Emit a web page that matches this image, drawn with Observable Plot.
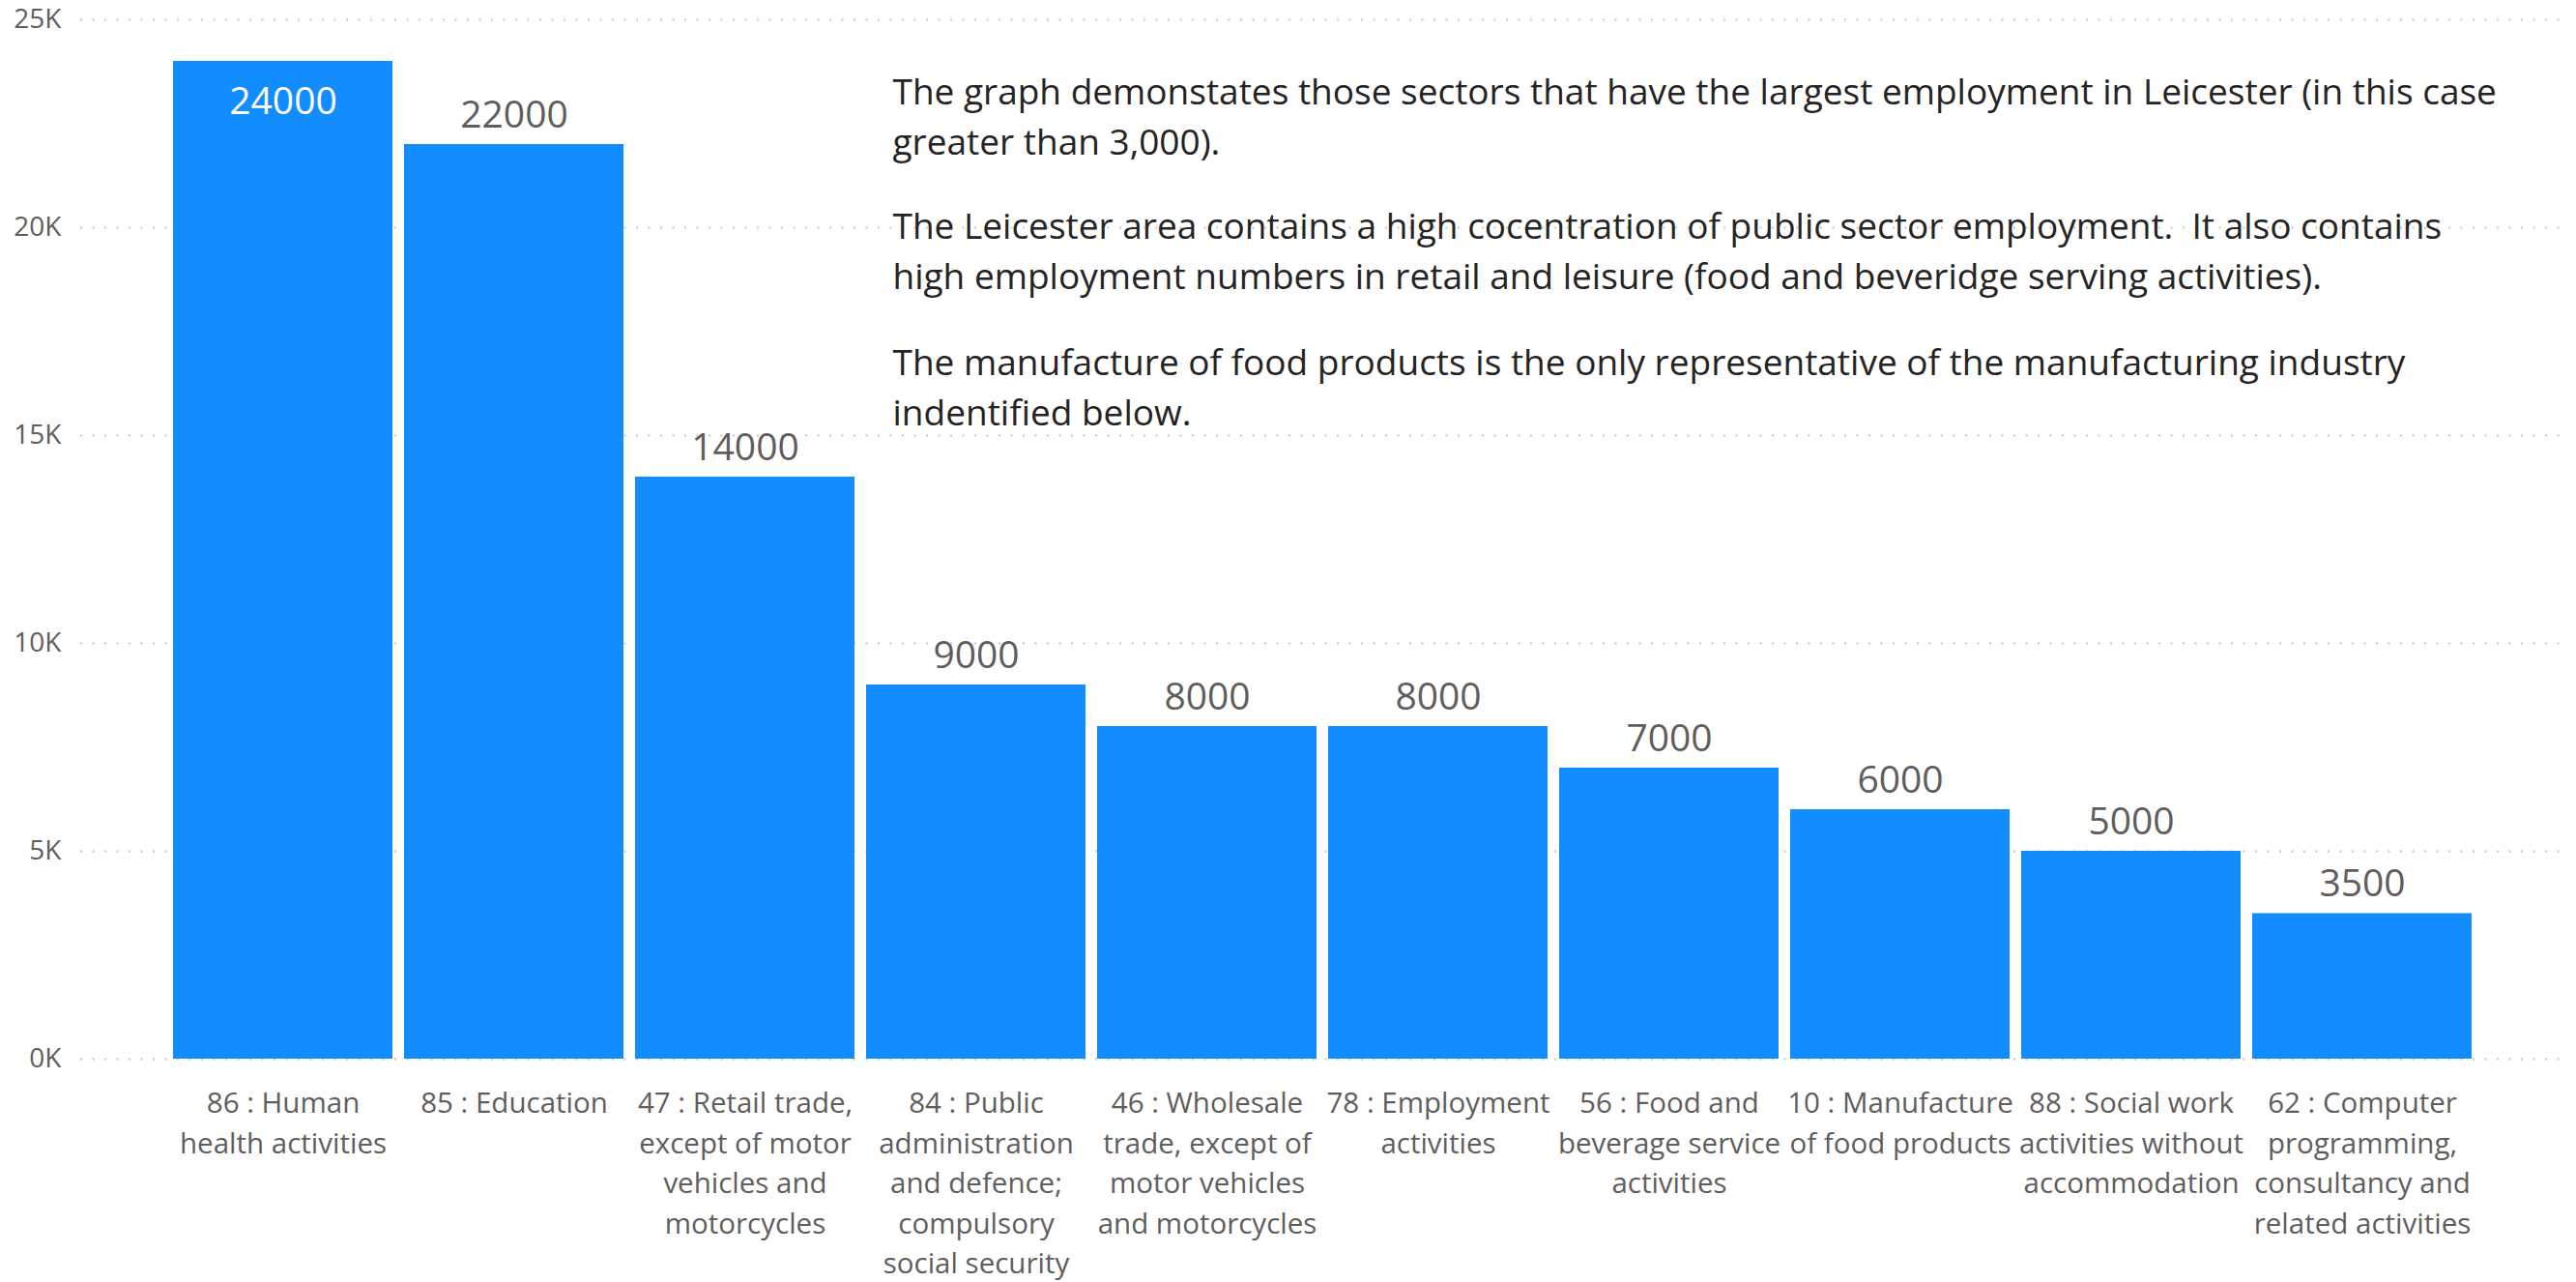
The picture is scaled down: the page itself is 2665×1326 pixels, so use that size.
<!DOCTYPE html>
<html><head><meta charset="utf-8">
<script src="https://cdn.jsdelivr.net/npm/d3@7"></script>
<script src="https://cdn.jsdelivr.net/npm/@observablehq/plot@0.6"></script>
<style>
html,body{margin:0;padding:0;background:#fff;}
#chart{width:2665px;height:1326px;}
</style></head><body><div id="chart"></div>
<script>
const categories = [
  "86 : Human health activities",
  "85 : Education",
  "47 : Retail trade, except of motor vehicles and motorcycles",
  "84 : Public administration and defence; compulsory social security",
  "46 : Wholesale trade, except of motor vehicles and motorcycles",
  "78 : Employment activities",
  "56 : Food and beverage service activities",
  "10 : Manufacture of food products",
  "88 : Social work activities without accommodation",
  "62 : Computer programming, consultancy and related activities"
];
const tickLabels = [
  "86 : Human\nhealth activities",
  "85 : Education",
  "47 : Retail trade,\nexcept of motor\nvehicles and\nmotorcycles",
  "84 : Public\nadministration\nand defence;\ncompulsory\nsocial security",
  "46 : Wholesale\ntrade, except of\nmotor vehicles\nand motorcycles",
  "78 : Employment\nactivities",
  "56 : Food and\nbeverage service\nactivities",
  "10 : Manufacture\nof food products",
  "88 : Social work\nactivities without\naccommodation",
  "62 : Computer\nprogramming,\nconsultancy and\nrelated activities"
];
const employment = [24000, 22000, 14000, 9000, 8000, 8000, 7000, 6000, 5000, 3500];
const yTicks = [0, 5000, 10000, 15000, 20000, 25000];
const notes = [
  "The graph demonstates those sectors that have the largest employment in Leicester (in this case\ngreater than 3,000).",
  "The Leicester area contains a high cocentration of public sector employment.\u00a0 It also contains\nhigh employment numbers in retail and leisure (food and beveridge serving activities).",
  "The manufacture of food products is the only representative of the manufacturing industry\nindentified below."
];

const data = categories.map((c, i) => ({sector: c, value: employment[i]}));
const labelOf = new Map(categories.map((c, i) => [c, tickLabels[i]]));
const font = "'Segoe UI', 'Open Sans', sans-serif";
const noteDy = [51, 190, 331];

const chart = Plot.plot({
  width: 2665,
  height: 1326,
  marginLeft: 83,
  marginRight: 8,
  marginTop: 20,
  marginBottom: 231,
  style: {fontFamily: font, color: "#605E5C", background: "#fff"},
  x: {domain: categories, paddingInner: 0.05, paddingOuter: 0.40, align: 0.49, label: null},
  y: {domain: [0, 25000], label: null},
  marks: [
    Plot.gridY(yTicks, {stroke: "#C8C6C4", strokeOpacity: 1, strokeWidth: 2, strokeDasharray: "2,10.5"}),
    Plot.axisY({ticks: yTicks, tickFormat: d => d / 1000 + "K", tickSize: 0, tickPadding: 20, fontSize: 28, label: null}),
    Plot.axisX({tickFormat: d => labelOf.get(d), tickSize: 0, tickPadding: 26, fontSize: 29.5, lineHeight: 1.41, label: null}),
    Plot.barY(data, {x: "sector", y: "value", fill: "#118DFF"}),
    Plot.text(data.filter(d => d.value <= 23000), {x: "sector", y: "value", text: d => String(d.value), dy: -30, fontSize: 39, fill: "#605E5C"}),
    Plot.text(data.filter(d => d.value > 23000), {x: "sector", y: "value", text: d => String(d.value), dy: 42, fontSize: 39, fill: "#ffffff"}),
    ...notes.map((t, i) => Plot.text([t], {text: d => d, frameAnchor: "top-left", textAnchor: "start", lineAnchor: "top", dx: 840, dy: noteDy[i], fontSize: 37, lineHeight: 1.4, fill: "#252423"}))
  ]
});
document.getElementById("chart").appendChild(chart);
</script>
</body></html>
